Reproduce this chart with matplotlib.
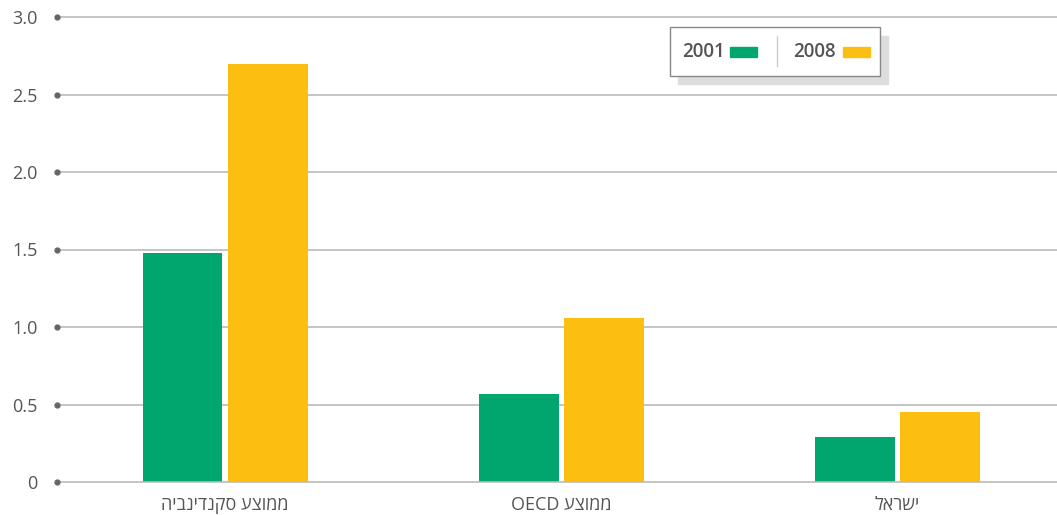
import matplotlib.pyplot as plt
import matplotlib.patches as mpatches
import numpy as np

# data
categories = ['ממוצע סקנדינביה', 'ממוצע OECD', 'ישראל']
vals_2001 = [1.48, 0.57, 0.29]
vals_2008 = [2.70, 1.06, 0.45]
yticks = [0, 0.5, 1.0, 1.5, 2.0, 2.5, 3.0]
ytick_labels = ['0', '0.5', '1.0', '1.5', '2.0', '2.5', '3.0']

GREEN = '#00a66e'
YELLOW = '#fdbe12'
TEXT = '#555555'


def visual(s):
    # matplotlib has no bidi support: reverse hebrew runs by hand
    if 'OECD' in s:
        heb = s.replace('OECD', '').strip()
        return 'OECD ' + heb[::-1]
    return s[::-1]


plt.rcParams['font.family'] = ['Open Sans', 'Liberation Sans', 'DejaVu Sans']

fig = plt.figure(figsize=(10.57, 5.15), dpi=100)
ax = fig.add_axes([57 / 1057, 1 - 482 / 515, 1 - 57 / 1057, (482 - 17) / 515])

x = np.arange(len(categories))
w = 0.238
off = 0.1265
ax.bar(x - off, vals_2001, w, color=GREEN, zorder=3)
ax.bar(x + off, vals_2008, w, color=YELLOW, zorder=3)

ax.set_xlim(-0.5, 2.476)
ax.set_ylim(0, 3.0)

for t in yticks:
    ax.axhline(t, color='#bbbbbb', lw=1.2, zorder=2 if t else 4, clip_on=False)
ax.plot([-0.5] * len(yticks), yticks, 'o', color='#666666', ms=3.5,
        clip_on=False, zorder=5)

ax.set_yticks(yticks)
ax.set_yticklabels(ytick_labels, fontsize=13, color=TEXT)
ax.tick_params(axis='y', length=0, pad=14)
ax.set_xticks(x)
ax.set_xticklabels([visual(c) for c in categories], fontsize=13, color=TEXT)
ax.tick_params(axis='x', length=0, pad=10)
for s in ax.spines.values():
    s.set_visible(False)

# legend box with shadow
W, H = 1057, 515
def fx(px):
    return px / W
def fy(py):
    return 1 - py / H

shadow = mpatches.Rectangle((fx(678), fy(84)), fx(888) - fx(678), fy(36) - fy(84),
                            transform=fig.transFigure, color='#dddddd', zorder=5)
box = mpatches.Rectangle((fx(670), fy(76)), fx(880) - fx(670), fy(27) - fy(76),
                         transform=fig.transFigure, facecolor='white',
                         edgecolor='#888888', lw=1, zorder=6)
fig.patches.extend([shadow, box])
fig.add_artist(plt.Line2D([fx(777), fx(777)], [fy(36), fy(66)],
                          transform=fig.transFigure, color='#cccccc', lw=1, zorder=7))
fig.text(fx(725), fy(52), '2001', fontsize=13.5, color=TEXT, va='center', ha='right',
         fontweight='semibold', zorder=7)
fig.patches.append(mpatches.Rectangle((fx(730), fy(57)), fx(27), fy(47) - fy(57),
                                      transform=fig.transFigure, color=GREEN, zorder=7))
fig.text(fx(836), fy(52), '2008', fontsize=13.5, color=TEXT, va='center', ha='right',
         fontweight='semibold', zorder=7)
fig.patches.append(mpatches.Rectangle((fx(843), fy(57)), fx(27), fy(47) - fy(57),
                                      transform=fig.transFigure, color=YELLOW, zorder=7))

plt.savefig('out.png', dpi=100)
